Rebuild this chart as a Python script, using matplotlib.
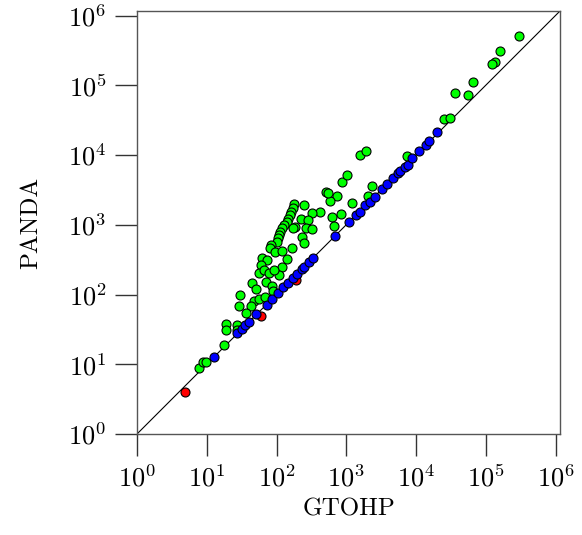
import matplotlib
matplotlib.use("Agg")
import matplotlib.pyplot as plt
import numpy as np

plt.rcParams['mathtext.fontset'] = 'cm'
plt.rcParams['font.family'] = ['cmr10', 'DejaVu Serif']
plt.rcParams['axes.formatter.use_mathtext'] = True

# GTOHP (x) vs PANDA (y)
green_x = [297000, 161000, 137000, 122000, 65600, 36800, 55800, 25200, 31200, 7310,
           1567, 1897, 871, 1010, 2340, 2050, 741, 588, 505, 550,
           1216, 843, 616, 664, 419, 327, 244, 179, 227, 286,
           266, 318, 235, 247,
           170, 162, 156, 147, 140, 129, 118, 112, 109, 106, 102,
           184, 170, 82.3, 80.4, 94.9, 118, 165, 141, 121, 61.2,
           73.6, 59.2, 56.5, 66.0, 78.6, 107, 91.8, 44.0, 50.7, 70.5,
           85.1, 87.9, 29.9, 29.2, 48.2, 43.0, 36.5, 55.4, 68.2, 18.8,
           27.5, 18.8, 27.4, 17.8, 7.86, 8.91, 9.90]
green_y = [513000, 305000, 219000, 200000, 111000, 78500, 73100, 32700, 34400, 9750,
           10000, 11490, 4130, 5200, 3640, 2570, 2620, 2180, 2970, 2840,
           2080, 1433, 1277, 948, 1546, 1467, 1910, 1977, 1216, 1183,
           903, 865, 670, 556,
           1747, 1546, 1374, 1216, 1112, 997, 894, 799, 716, 643, 574,
           942, 912, 515, 462, 413, 426, 471, 321, 246, 332,
           314, 266, 206, 225, 206, 189, 225, 148, 120, 153,
           133, 113, 99.7, 68.6, 80.9, 68.6, 55.0, 86.5, 91.4, 37.2,
           36.6, 30.5, 31.1, 18.9, 8.85, 10.9, 10.8]

blue_x = [12.8, 27.1, 32.5, 35.3, 40.0, 51.2, 72.1, 85.9, 106, 125,
          147, 173, 194, 229, 247, 291, 329, 687, 1089, 1364,
          1567, 1879, 2178, 2570, 3289, 3819, 4654, 5546, 5861, 7030,
          7710, 8850, 11140, 14060, 15410, 20320]
blue_y = [12.9, 27.7, 32.3, 36.6, 40.4, 51.8, 71.0, 86.5, 105, 127,
          148, 171, 198, 231, 251, 294, 332, 698, 1101, 1387,
          1546, 1897, 2153, 2489, 3273, 3890, 4667, 5500, 5930, 6770,
          7230, 9120, 11490, 14000, 16000, 21040]

red_x = [4.87, 59.8, 190]
red_y = [3.97, 49.3, 162]

diag = [1, 1.2e6]

fig = plt.figure(figsize=(5.82, 5.35), dpi=100)
ax = fig.add_axes([137/582, 1 - 434/535, (560-137)/582, (434-11)/535])

ax.plot(diag, diag, color='black', lw=0.8, zorder=1)
ms = 42
ax.scatter(green_x, green_y, s=ms, c='#00ff00', edgecolors='black', linewidths=0.8, zorder=2)
ax.scatter(red_x, red_y, s=ms, c='#ff0000', edgecolors='black', linewidths=0.8, zorder=3)
ax.scatter(blue_x, blue_y, s=ms, c='#0000ff', edgecolors='black', linewidths=0.8, zorder=4)

ax.set_xscale('log')
ax.set_yscale('log')
lim = 10 ** (423 / 69.75)
ax.set_xlim(1, lim)
ax.set_ylim(1, lim)
ax.set_xticks([10.0 ** k for k in range(7)])
ax.set_yticks([10.0 ** k for k in range(7)])
ax.minorticks_off()

for s in ax.spines.values():
    s.set_color('#555555')
    s.set_linewidth(1.0)
ax.tick_params(axis='both', which='major', direction='out', length=16, width=1.0,
               color='#333333', labelsize=19, pad=6, top=False, right=False)

ax.set_xlabel('GTOHP', fontsize=18, labelpad=5)
ax.set_ylabel('PANDA', fontsize=18, labelpad=19)

fig.savefig('out.png', dpi=100)
